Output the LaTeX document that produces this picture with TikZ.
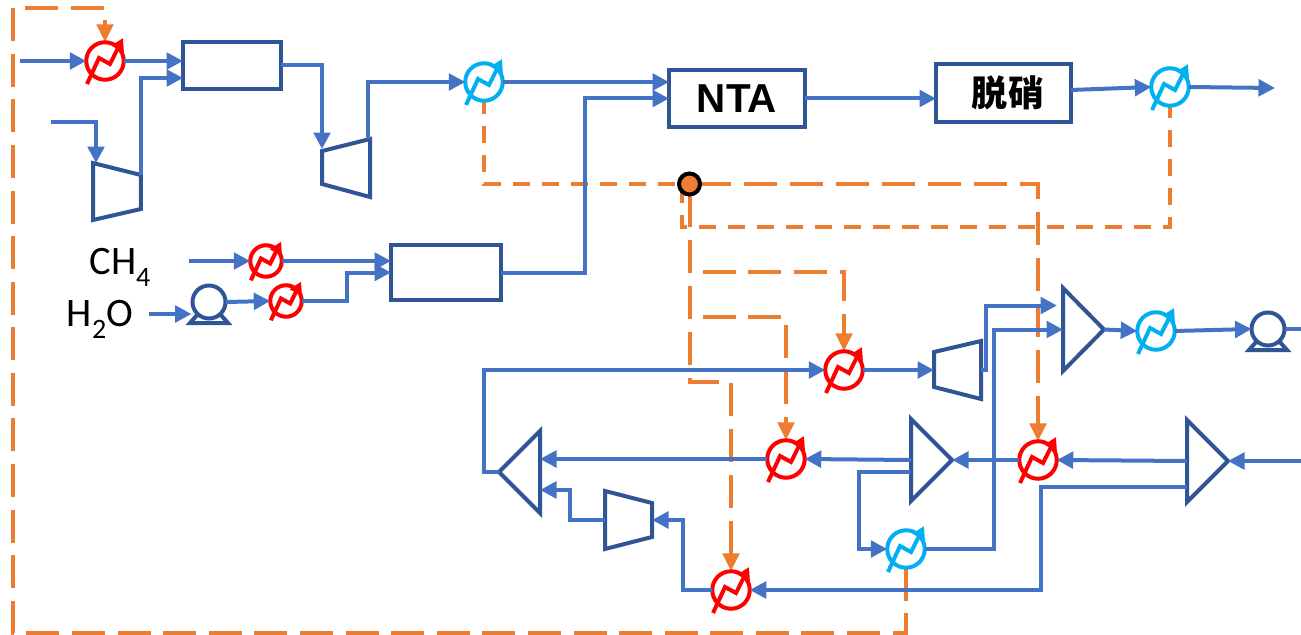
\documentclass[tikz,border=0pt]{standalone}
\usepackage{fontspec}
\setmainfont{Carlito}
\newfontfamily\latinbold{Liberation Sans}
\newfontfamily\cjkbold{Noto Sans CJK SC}
\usepackage{tikz}
\usetikzlibrary{shapes.geometric, positioning, arrows.meta, calc, backgrounds}
\definecolor{flowblue}{HTML}{4472C4}
\definecolor{unitblue}{HTML}{2F5597}
\definecolor{steamor}{HTML}{ED7D31}
\definecolor{coolblue}{HTML}{00B0F0}
\tikzset{
  flow/.style={draw=flowblue, line width=0.08cm, -{Triangle[length=0.33cm,width=0.33cm]}},
  flowline/.style={draw=flowblue, line width=0.08cm},
  steam/.style={draw=steamor, line width=0.08cm, dash pattern=on 0.66cm off 0.26cm},
  steamfine/.style={draw=steamor, line width=0.08cm, dash pattern=on 0.34cm off 0.24cm},
  steamtip/.style={-{Triangle[length=0.36cm,width=0.33cm]}},
  unitbox/.style={rectangle, draw=unitblue, line width=0.09cm, fill=white, inner sep=0pt, outer sep=0pt},
  heatx/.style={circle, line width=0.08cm, inner sep=0pt, outer sep=0pt},
  pumpx/.style={circle, draw=unitblue, line width=0.08cm, inner sep=0pt, outer sep=0pt, minimum size=0.66cm},
  shapebox/.style={rectangle, inner sep=0pt, outer sep=0pt},
  unitline/.style={draw=unitblue, line width=0.08cm, line join=miter}
}
% heat exchanger: name, position, colour, scale
\newcommand{\heater}[4]{
    \node[heatx, draw=#3, minimum size=#4*0.75cm] (#1) at (#2) {};
    \begin{scope}[shift={(#2)}, scale=#4]
        \draw[#3, line width=0.08cm, -{Triangle[length=0.24cm,width=0.26cm]}] (-18,23) -- (-6,-3) -- (5,3) -- (18,-23);
    \end{scope}
}
\newcommand{\pump}[2]{
    \node[pumpx] (#1) at (#2) {};
    \begin{scope}[shift={(#2)}]
        \draw[unitline] (-11,12) -- (-19,21) -- (19,21) -- (11,12);
    \end{scope}
}
\begin{document}
\begin{tikzpicture}[x=0.02cm, y=-0.02cm]
    \useasboundingbox (0,0) rectangle (1301,635);

    % -------- boxes --------
    \node[unitbox, minimum width=1.96cm, minimum height=0.94cm] (reacA) at (232,65.5) {};
    \node[unitbox, minimum width=2.2cm, minimum height=1.1cm] (reacB) at (446,272.5) {};
    \node[unitbox, minimum width=2.72cm, minimum height=1.14cm, font=\latinbold\bfseries\fontsize{23}{23}\selectfont] (nta) at (737,98.5) {NTA\hspace{0.36cm}};
    \node[unitbox, minimum width=2.7cm, minimum height=1.16cm, font=\cjkbold\bfseries\fontsize{20.5}{21}\selectfont] (denox) at (1003.5,93) {\hspace{0.18cm}脱硝};

    % -------- heat exchangers --------
    \heater{hFeed}{105,61}{red}{1}
    \heater{hMeth}{266,261}{red}{0.84}
    \heater{hWater}{286,301}{red}{0.84}
    \heater{hLoop}{844,370}{red}{1}
    \heater{hMid}{786,459}{red}{1}
    \heater{hRight}{1038,460}{red}{1}
    \heater{hLow}{731,590}{red}{1}
    \heater{cAfter}{484,82}{coolblue}{1}
    \heater{cEnd}{1170,87}{coolblue}{1}
    \heater{cOut}{1156,331}{coolblue}{1}
    \heater{cLow}{906,549}{coolblue}{1}

    % -------- pumps --------
    \pump{pumpA}{209,302}
    \pump{pumpB}{1268,329}

    % -------- compressors --------
    \node[shapebox, minimum width=0.96cm, minimum height=1.14cm] (compA) at (117,191.5) {};
    \draw[unitline] (compA.north west) -- ($(compA.north east)+(0,12)$) -- ($(compA.south east)+(0,-11)$) -- (compA.south west) -- cycle;
    \node[shapebox, minimum width=0.96cm, minimum height=1.16cm] (compB) at (346,168) {};
    \draw[unitline] (compB.north east) -- ($(compB.north west)+(0,12)$) -- ($(compB.south west)+(0,-13)$) -- (compB.south east) -- cycle;
    \node[shapebox, minimum width=0.94cm, minimum height=1.16cm] (compC) at (957.5,370) {};
    \draw[unitline] (compC.north east) -- ($(compC.north west)+(0,11)$) -- ($(compC.south west)+(0,-12)$) -- (compC.south east) -- cycle;
    \node[shapebox, minimum width=0.94cm, minimum height=1.16cm] (compD) at (628.5,520) {};
    \draw[unitline] (compD.north west) -- ($(compD.north east)+(0,12)$) -- ($(compD.south east)+(0,-12)$) -- (compD.south west) -- cycle;

    % -------- mixers --------
    \node[shapebox, minimum width=0.82cm, minimum height=1.66cm] (mixA) at (1083.5,329.5) {};
    \draw[unitline] (mixA.north west) -- (mixA.east) -- (mixA.south west) -- cycle;
    \node[shapebox, minimum width=0.82cm, minimum height=1.64cm] (mixB) at (931.5,460) {};
    \draw[unitline] (mixB.north west) -- (mixB.east) -- (mixB.south west) -- cycle;
    \node[shapebox, minimum width=0.82cm, minimum height=1.64cm] (mixC) at (1207.5,461) {};
    \draw[unitline] (mixC.north west) -- (mixC.east) -- (mixC.south west) -- cycle;
    \node[shapebox, minimum width=0.82cm, minimum height=1.64cm] (mixD) at (519.5,472) {};
    \draw[unitline] (mixD.north east) -- (mixD.west) -- (mixD.south east) -- cycle;

    % -------- labels --------
    \node[inner sep=0pt, font=\fontsize{23}{23}\selectfont] (lblMeth) at (120,267) {CH\raisebox{-.3em}{\fontsize{16}{16}\selectfont 4}};
    \node[inner sep=0pt, font=\fontsize{23}{23}\selectfont] (lblWater) at (100,319) {H\raisebox{-.3em}{\fontsize{16}{16}\selectfont 2}O};

    % -------- free ends --------
    \coordinate (inFeed) at (20,61);
    \coordinate (inAir) at (51,122);
    \coordinate (inMeth) at (189,261);
    \coordinate (inWater) at (149,314);
    \coordinate (inRight) at (1301,461);
    \coordinate (outEnd) at (1275,88);
    \coordinate (outPump) at (1301,329);
    \coordinate (cornerBL) at (13,633);
    \coordinate (cornerTL) at (13,8);
    \coordinate (bendLow) at (689.5,382);
    \coordinate (tapA) at (689.5,272);
    \coordinate (tapB) at (689.5,317);

    % -------- steam lines --------
    \node[circle, draw=black, fill=steamor, line width=0.08cm, minimum size=0.42cm, inner sep=0pt, outer sep=0pt] (junc) at (689.5,184) {};
    \begin{scope}[on background layer]
        \draw[steam, steamtip, dash pattern=on 0.66cm off 0.252cm] (cLow.south) |- (cornerBL) -- (cornerTL) -| (hFeed.north);
        \draw[steamfine, dash phase=0.08cm] (cAfter.south) |- (junc.west);
        \draw[steam, steamtip, dash phase=0.04cm] (junc.east) -| (hRight.north);
        \draw[steam, steamtip] (junc.south) -- (bendLow) -| (hLow.north);
        \draw[steam, steamtip, dash phase=0.66cm] (tapA) -| (hLoop.north);
        \draw[steam, steamtip, dash phase=0.66cm] (tapB) -| (hMid.north);
        \draw[steamfine, dash phase=0.1cm] (cEnd.south) -- ++(0,121) -| (junc.south west);
    \end{scope}

    % -------- upper train --------
    \draw[flow] (inFeed) -- (hFeed.west);
    \draw[flow] (hFeed.east) -- (reacA.west |- hFeed.east);
    \draw[flow] (inAir) -| ($(compA.north west)+(3,0)$);
    \draw[flow] ($(compA.north east)+(0,12)$) |- ($(reacA.west)+(0,12.5)$);
    \draw[flow] (reacA.east) -| ($(compB.north west)+(0,10)$);
    \draw[flow] ($(compB.north east)+(-2,0)$) |- (cAfter.west);
    \draw[flow] (cAfter.east) -- (nta.west |- cAfter.east);
    \draw[flow] (reacB.east) -- ++(84,0) |- (nta.west);
    \draw[flow] (nta.east) -- (denox.west |- nta.east);
    \draw[flow] ($(denox.east)+(0,-3)$) -- (cEnd.west);
    \draw[flow] (cEnd.east) -- (outEnd);

    % -------- feed to second box --------
    \draw[flow] (inMeth) -- (hMeth.west);
    \draw[flow] (hMeth.east) -- (reacB.west |- hMeth.east);
    \draw[flow] (inWater) -- ($(pumpA.west)+(-1,12)$);
    \draw[flow] (pumpA.east) -- (hWater.west);
    \draw[flow] (hWater.east) -- ++(45,0) |- (reacB.west);

    % -------- lower loop --------
    \draw[flow] (mixD.west) -- ++(-15,0) |- (hLoop.west);
    \draw[flow] (hLoop.east) -- (compC.west);
    \draw[flow] (compC.east) -- ++(5,0) |- ($(mixA.west)+(-6,-24)$);
    \draw[flow] (cLow.east) -- ++(69,0) |- (mixA.west);
    \draw[flow] (mixA.east) -- (cOut.west);
    \draw[flow] (cOut.east) -- (pumpB.west);
    \draw[flowline] (pumpB.east) -- (outPump);
    \draw[flow] (inRight) -- (mixC.east);
    \draw[flow] (mixC.west) -- (hRight.east);
    \draw[flow] (hRight.west) -- (mixB.east);
    \draw[flow] (mixB.west) -- (hMid.east);
    \draw[flow] (hMid.west) -- (mixD.east |- hMid.west);
    \draw[flow] ($(mixB.west)+(0,12)$) -- ++(-52,0) |- (cLow.west);
    \draw[flow] ($(mixC.west)+(0,26)$) -- ++(-146,0) |- (hLow.east);
    \draw[flow] (hLow.west) -- ++(-29,0) |- (compD.east);
    \draw[flow] (compD.west) -- ++(-35,0) |- ($(mixD.east)+(0,18)$);

\end{tikzpicture}
\end{document}
